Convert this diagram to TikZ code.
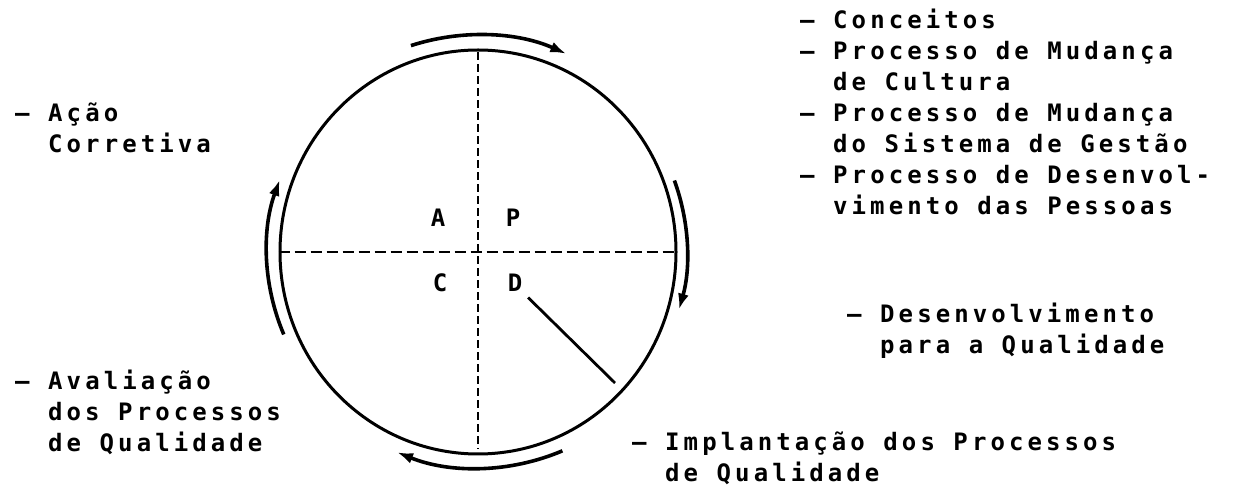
\documentclass[tikz,border=0pt]{standalone}
\usepackage{fontspec}
\newfontfamily\dotfont[LetterSpace=17]{DejaVu Sans Mono Bold}
\usetikzlibrary{arrows.meta,shapes.geometric}
\begin{document}
\begin{tikzpicture}[x=1pt,y=1pt,
  txt/.style={font=\dotfont\fontsize{24}{31}\selectfont, inner sep=0pt, anchor=base west, align=left},
  lbl/.style={font=\dotfont\fontsize{24}{31}\selectfont, inner sep=0pt},
  ring/.style={line width=3pt},
  cycarrow/.style={line width=3.6pt, -{Latex[length=16pt,width=11pt]}},
  hdash/.style={line width=2.8pt, dash pattern=on 11pt off 5pt},
  vdash/.style={line width=2.8pt, dash pattern=on 8pt off 4pt},
  pointer/.style={line width=2.8pt},
]
\useasboundingbox (0,0) rectangle (1237,487);
\node[ellipse, draw, ring, minimum width=396pt, minimum height=404pt, inner sep=0pt] (cyc) at (478,235) {};
\draw[hdash] (cyc.west) -- (cyc.east);
\draw[vdash, shorten <=4pt, shorten >=6pt] (cyc.north) -- (cyc.south);
% cycle arrows
\draw[cycarrow] ([shift={(108:217pt)}]cyc.center) arc[start angle=108, end angle=66, radius=217pt];
\draw[cycarrow] ([shift={(20:209pt)}]cyc.center) arc[start angle=20, end angle=-16, radius=209pt];
\draw[cycarrow] ([shift={(-67:216pt)}]cyc.center) arc[start angle=-67, end angle=-112, radius=216pt];
\draw[cycarrow] ([shift={(203:211pt)}]cyc.center) arc[start angle=203, end angle=160, radius=211pt];
% quadrant labels
\node[lbl] (A) at (438,269) {A};
\node[lbl] (P) at (513,269) {P};
\node[lbl] (C) at (440,204) {C};
\node[lbl] (D) at (515,204) {D};
\coordinate (dend) at (615,104);
\draw[pointer, shorten <=8pt] (D.south east) -- (dend);
% texts (base anchor = baseline of the last line)
\node[txt] (plan) at (833,272) {\llap{– }Conceitos\\
\llap{– }Processo de Mudança\\
de Cultura\\
\llap{– }Processo de Mudança\\
do Sistema de Gestão\\
\llap{– }Processo de Desenvol-\\
vimento das Pessoas};
\node[txt] (acao) at (48,334) {\llap{– }Ação\\Corretiva};
\node[txt] (aval) at (48,35) {\llap{– }Avaliação\\dos Processos\\de Qualidade};
\node[txt] (desq) at (880,133) {\llap{– }Desenvolvimento\\para a Qualidade};
\node[txt] (impl) at (665,5) {\llap{– }Implantação dos Processos\\de Qualidade};
\end{tikzpicture}
\end{document}
